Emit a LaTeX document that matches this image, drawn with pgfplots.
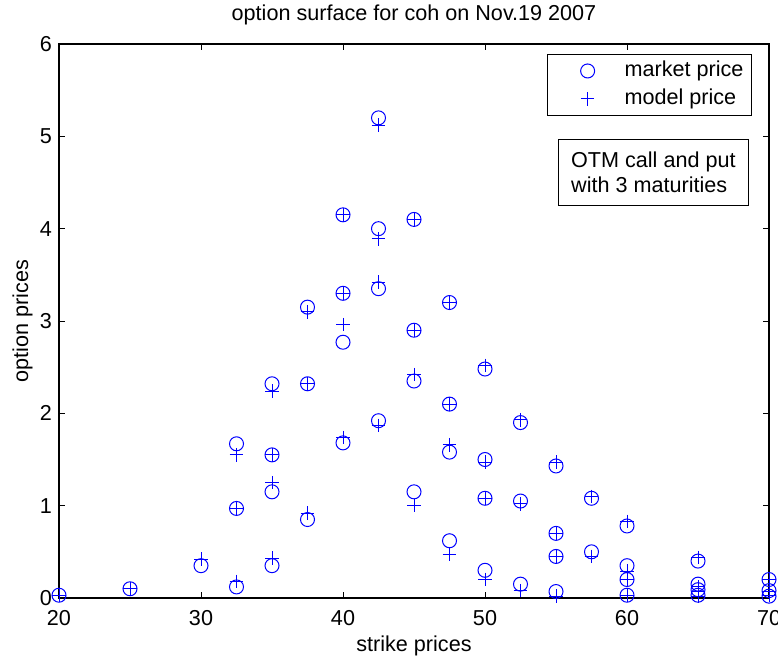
\documentclass[border=0pt]{standalone}
\usepackage{fontspec}
\setmainfont{Liberation Sans}
\usepackage{pgfplots}
\pgfplotsset{compat=1.18}
\definecolor{mblue}{RGB}{0,0,255}
\pgfplotstableread{
x y
20 0.03
25 0.10
30 0.35
32.5 1.67
32.5 0.97
32.5 0.12
35 2.32
35 1.55
35 1.15
35 0.35
37.5 3.15
37.5 2.32
37.5 0.85
40 4.15
40 3.30
40 2.77
40 1.68
42.5 5.20
42.5 4.00
42.5 3.35
42.5 1.92
45 4.10
45 2.90
45 2.35
45 1.15
47.5 3.20
47.5 2.10
47.5 1.58
47.5 0.62
50 2.48
50 1.50
50 1.08
50 0.30
52.5 1.90
52.5 1.05
52.5 0.15
55 1.43
55 0.70
55 0.45
55 0.07
57.5 1.08
57.5 0.50
60 0.78
60 0.35
60 0.20
60 0.03
65 0.40
65 0.15
65 0.09
65 0.03
70 0.20
70 0.08
70 0.02
}\market
\pgfplotstableread{
x y
20 0.03
25 0.10
30 0.42
32.5 1.55
32.5 0.97
32.5 0.18
35 2.24
35 1.55
35 1.25
35 0.43
37.5 3.10
37.5 2.32
37.5 0.92
40 4.15
40 3.30
40 2.96
40 1.74
42.5 5.12
42.5 3.89
42.5 3.42
42.5 1.87
45 4.10
45 2.90
45 2.42
45 1.00
47.5 3.20
47.5 2.10
47.5 1.66
47.5 0.47
50 2.52
50 1.47
50 1.08
50 0.20
52.5 1.93
52.5 1.02
52.5 0.08
55 1.47
55 0.70
55 0.45
55 0.02
57.5 1.10
57.5 0.45
60 0.83
60 0.29
60 0.20
60 0.03
65 0.44
65 0.12
65 0.07
65 0.02
70 0.20
70 0.07
70 0.03
}\model
\pgfplotsset{myimg/.style={legend image code/.code={\path[draw=none,fill=none] (0pt,0pt) -- (34.5pt,0pt);\draw[##1, only marks] plot coordinates {(18pt,0pt)};}}}
\newcommand{\fs}{\fontsize{10.8}{12.5}\selectfont}
\begin{document}
\begin{tikzpicture}
\begin{axis}[name=ax, width=355pt, height=277pt, scale only axis,
  xmin=20, xmax=70, ymin=0, ymax=6,
  xtick={20,30,40,50,60,70}, ytick={0,1,2,3,4,5,6},
  tick align=inside, major tick length=3pt,
  /pgf/number format/assume math mode=true,
  axis line style={line width=0.6pt, black},
  tick style={line width=0.5pt, black},
  xticklabel style={yshift=-2.5pt},
  clip=false,
  font=\fs,
  title={option surface for coh on Nov.19 2007},
  title style={at={(axis description cs:0.5,1)}, anchor=south, yshift=0pt},
  xlabel={strike prices}, ylabel={option prices},
  xlabel style={at={(axis description cs:0.5,-0.0957)}, anchor=base},
  ylabel style={at={(axis description cs:-0.0273,0.5)}, anchor=south},
  legend style={at={(0.976,0.982)}, anchor=north east, draw=black, line width=0.5pt,
    inner xsep=2pt, inner ysep=1.25pt,
    nodes={inner sep=2pt, text height=8pt, text depth=2pt},
    font=\fs},
  legend cell align=left,
]
\addplot[only marks, mark=o, mark size=3.5pt, mblue, mark options={line width=0.5pt}, myimg] table[x=x,y=y] {\market};
\addlegendentry{market price}
\addplot[only marks, mark=+, mark size=3.4pt, mblue, mark options={line width=0.5pt}, myimg] table[x=x,y=y] {\model};
\addlegendentry{model price}
\node[draw=black, line width=0.5pt, fill=white, align=left, anchor=north east, inner xsep=6.5pt, inner ysep=6.2pt, font=\fs] at (rel axis cs:0.972,0.8285) {OTM call and put\\with 3 maturities};
\end{axis}
\pgfresetboundingbox
\path[use as bounding box] ([shift={(-29.5pt,-29pt)}]ax.south west) rectangle ([shift={(4.5pt,22pt)}]ax.north east);
\end{tikzpicture}
\end{document}
